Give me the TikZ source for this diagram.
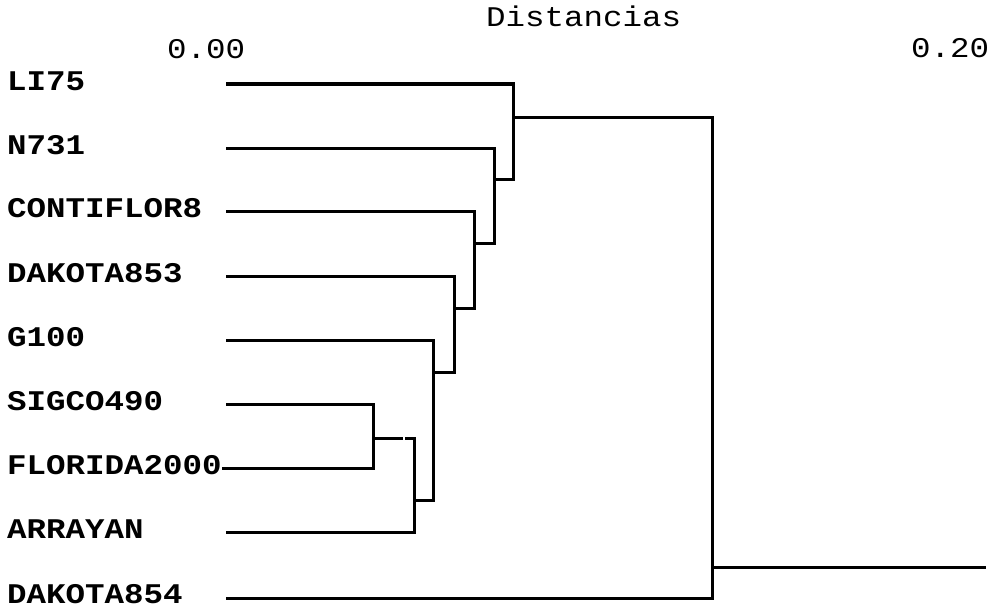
\documentclass[tikz,border=0pt]{standalone}
\usepackage{fontspec}
\newfontfamily\monofnt[FakeStretch=1.14]{Liberation Mono}
\begin{document}
\begin{tikzpicture}[x=1pt,y=-1pt,
  leaflab/.style={anchor=base west,inner sep=0pt,font=\monofnt\bfseries\fontsize{28.5}{28.5}\selectfont},
  axlab/.style={anchor=base west,inner sep=0pt,font=\monofnt\fontsize{28.5}{28.5}\selectfont},
  branch/.style={line width=3pt,line cap=rect,line join=miter}]
\useasboundingbox (0,0) rectangle (996,610);
% title and scale
\node[axlab] (title) at (486,27) {Distancias};
\node[axlab] (zero) at (167,59) {0.00};
\node[axlab] (twenty) at (911,58) {0.20};
% leaf labels
\node[leaflab] (l1) at (7,90) {LI75};
\node[leaflab] (l2) at (7,154) {N731};
\node[leaflab] (l3) at (7,217.5) {CONTIFLOR8};
\node[leaflab] (l4) at (7,282.5) {DAKOTA853};
\node[leaflab] (l5) at (7,346.5) {G100};
\node[leaflab] (l6) at (7,410.5) {SIGCO490};
\node[leaflab] (l7) at (7,474.5) {FLORIDA2000};
\node[leaflab] (l8) at (7,538.5) {ARRAYAN};
\node[leaflab] (l9) at (7,603.5) {DAKOTA854};
% leaf line starts
\coordinate (s1) at (227,84);
\coordinate (s2) at (227,148);
\coordinate (s3) at (227,211);
\coordinate (s4) at (227,276);
\coordinate (s5) at (227,340);
\coordinate (s6) at (227,404);
\coordinate (s7) at (223,468);
\coordinate (s8) at (227,532);
\coordinate (s9) at (227,598);
% join columns
\coordinate (a1) at (513,84);  \coordinate (b1) at (513,179); \coordinate (o1) at (513,117);
\coordinate (a2) at (494,148); \coordinate (b2) at (494,243);
\coordinate (a3) at (474,211); \coordinate (b3) at (474,308);
\coordinate (a4) at (454,276); \coordinate (b4) at (454,372);
\coordinate (a5) at (433,340); \coordinate (b5) at (433,500);
\coordinate (a6) at (373,404); \coordinate (b6) at (373,468); \coordinate (o6) at (373,438);
\coordinate (a8) at (414,438); \coordinate (b8) at (414,532); \coordinate (o8) at (414,500);
\coordinate (g1) at (401,438); \coordinate (g2) at (406,438);
\coordinate (r1) at (712,117); \coordinate (r2) at (712,598); \coordinate (ro) at (712,567);
\coordinate (rend) at (984,567);
% leaves to joins
\draw[branch] (s1) -- (a1) -- (b1) -- (a2 |- b1);
\draw[branch] (s2) -- (a2) -- (b2) -- (a3 |- b2);
\draw[branch] (s3) -- (a3) -- (b3) -- (a4 |- b3);
\draw[branch] (s4) -- (a4) -- (b4) -- (a5 |- b4);
\draw[branch] (s5) -- (a5) -- (b5) -- (o8);
\draw[branch] (s6) -- (a6) -- (b6) -- (s7);
\draw[branch] (o6) -- (g1);
\draw[branch] (g2) -- (a8) -- (b8) -- (s8);
\draw[branch] (o1) -- (r1) -- (r2) -- (s9);
\draw[branch] (ro) -- (rend);
\end{tikzpicture}
\end{document}
